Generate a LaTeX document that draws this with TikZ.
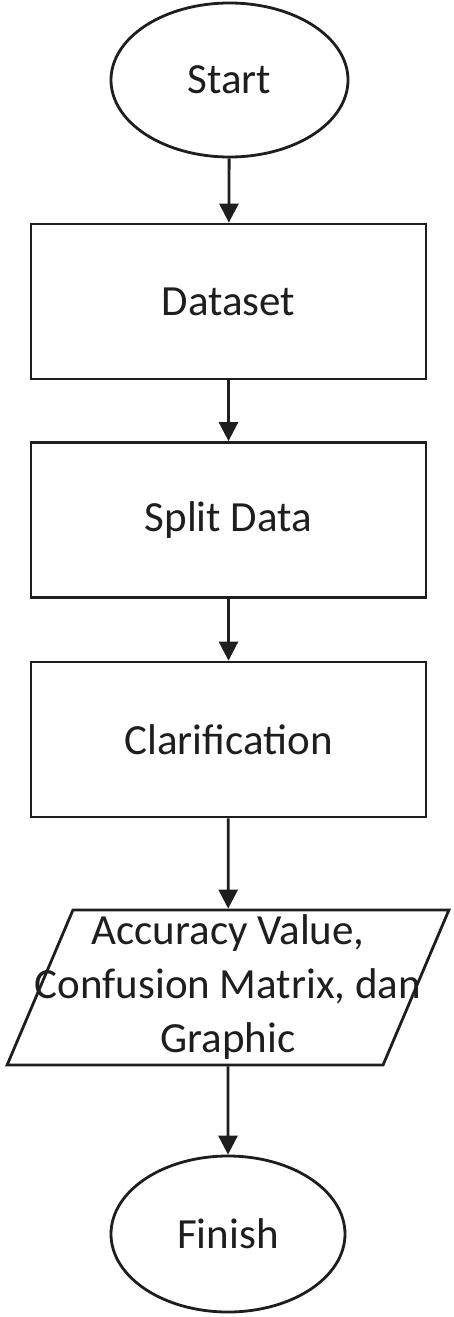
\documentclass[tikz,border=0pt]{standalone}
\usepackage{fontspec}
\setmainfont{Carlito}
\usetikzlibrary{shapes.geometric,arrows.meta}
\definecolor{ink}{HTML}{1E1E1E}
\begin{document}
\begin{tikzpicture}[x=1pt,y=1pt,
  txt/.style={text=ink,inner sep=0pt,font=\fontsize{43}{54}\selectfont},
  base/.style={txt,draw=ink,line width=2.8pt},
  term/.style={base,ellipse},
  procbox/.style={base,rectangle,minimum width=395pt,minimum height=155pt},
  iobox/.style={base,trapezium,trapezium left angle=74.2,trapezium right angle=105.8,
    trapezium stretches=true,minimum width=444pt,minimum height=155pt},
  flow/.style={draw=ink,line width=2.8pt,-{Triangle[length=19pt,width=19pt]}}]
\useasboundingbox (0,0) rectangle (454,-1317);
\fill[white] (0,0) rectangle (454,-1317);
\node[term,minimum width=237pt,minimum height=154pt] (start) at (229.5,-80) {Start};
\node[procbox] (dataset) at (228.5,-301.5) {Dataset};
\node[procbox] (split) at (228.5,-520) {Split Data};
\node[procbox] (clar) at (228.5,-739.5) {Clarification};
\node[iobox] (out) at (228,-987.5) {\phantom{M}};
\node[txt,align=center] (outtext) at (out.center) {Accuracy Value,\\Confusion Matrix, dan\\Graphic};
\node[term,minimum width=234pt,minimum height=156pt] (finish) at (228,-1234) {Finish};
\draw[flow] (start) -- (dataset);
\draw[flow] (dataset) -- (split);
\draw[flow] (split) -- (clar);
\draw[flow] (clar) -- (out);
\draw[flow] (out) -- (finish);
\end{tikzpicture}
\end{document}
